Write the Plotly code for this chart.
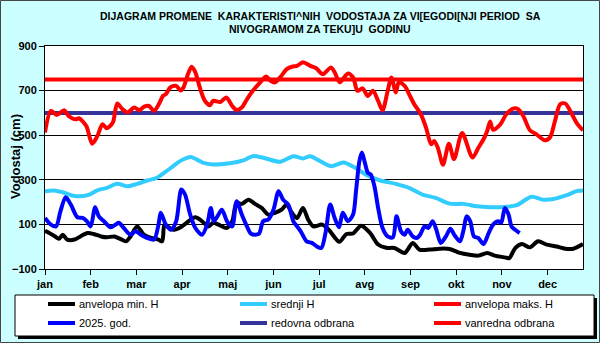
import plotly.graph_objects as go

months = ["jan", "feb", "mar", "apr", "maj", "jun", "jul", "avg", "sep", "okt", "nov", "dec"]
month_ticks = [0, 31, 62, 93, 124, 155, 186, 217, 248, 279, 310, 341]

min_days = [0, 5, 9.5, 12, 15, 20, 24, 29, 33, 38, 42, 47, 51, 55, 58, 62.5, 67, 72, 77, 79.5, 81, 83, 87.5,
            92, 96, 102, 106, 111, 114, 119, 123, 127, 130, 133.5, 138, 142.5, 147, 151.5, 156, 160.5, 164,
            167.5, 171, 175, 178.5, 182, 188, 192.5, 199.7, 204.5, 209, 214.5, 220.5, 226, 231.5, 237, 244,
            249.5, 254, 261, 267.5, 274.5, 281.5, 288, 294, 300, 305, 312, 315, 319, 323.5, 329, 334.5, 340.5,
            347, 353, 358.5, 365]
min_h = [72, 54, 36, 54, 32, 32, 46, 61, 57, 46, 42, 46, 35, 24, 46, 91, 54, 39, 32, 24, 99, 91, 76,
         87, 107, 132, 117, 91, 107, 95, 84, 114, 197, 192, 211, 192, 174, 144, 152, 166, 189,
         152, 129, 174, 122, 91, 99, 76, 22, 57, 59, 94, 62, 10, -5, -6, -28,
         17, -13, -13, -9, -10, -28, -36, -40, -28, -40, -48, -51, -6, 12, -3, 24, 9,
         1, -9, -9, 12]

mean_days = [0, 6, 13, 20, 29, 35.5, 42, 49, 56, 62.5, 69.5, 76, 81, 85.5, 90, 94, 99, 107, 114, 125.5,
             134.5, 141, 148, 159.5, 168.5, 175, 180, 186, 194, 202.5, 210, 218, 227, 238, 247, 256, 265,
             274.5, 284, 293, 302, 311, 320, 330, 338, 345, 354, 360.5, 365]
mean_h = [249, 252, 242, 227, 231, 253, 264, 282, 271, 282, 297, 309, 332, 354, 377, 392, 402, 377, 369, 374,
          387, 406, 399, 381, 406, 396, 406, 386, 361, 378, 356, 322, 298, 282, 264, 234, 219,
          193, 192, 181, 177, 178, 186, 224, 211, 214, 231, 249, 252]

max_days = [0, 4, 8, 13, 16, 21, 23, 28, 32, 35.5, 39, 42, 46, 49, 52.5, 56, 60.5, 64, 67, 70.5, 74, 77.5,
            80, 82, 85, 89, 92, 94, 97, 99.5, 102, 105, 108.5, 112, 114, 119, 123, 127, 130, 133.5, 137,
            141, 146, 150, 153, 156, 159.5, 164, 167.5, 171, 175, 180, 184, 188.5, 194, 196.5, 200, 205.5,
            209, 212, 215.5, 219, 222.5, 226, 229, 232.5, 235, 238, 240, 244, 247, 250.5, 255, 258.5, 262,
            264, 266.5, 270, 274, 277.5, 283, 290, 294, 297.5, 300, 302, 304, 309, 313, 318, 321, 324.5,
            329, 333.5, 339, 342.5, 346, 349.5, 353, 357.5, 361, 365]
max_h = [512, 609, 591, 612, 586, 571, 576, 541, 462, 496, 549, 531, 557, 642, 617, 602, 624, 612, 627, 631, 609, 642,
         676, 684, 714, 721, 700, 715, 774, 807, 782, 714, 654, 634, 654, 649, 669, 631, 613, 624, 661,
         699, 737, 763, 744, 737, 759, 796, 807, 811, 827, 811, 800, 774, 804, 782, 737, 777,
         759, 699, 710, 676, 699, 654, 612, 699, 759, 692, 737, 721, 684, 639, 594, 534, 459,
         474, 444, 368, 462, 393, 510, 400, 444, 482, 519, 561, 524, 549, 594, 620, 617, 586,
         522, 504, 477, 489, 564, 639, 642, 594, 552, 522]

cur_days = [0, 4, 7.5, 10.5, 14, 17.5, 22, 25.5, 28.5, 31, 34, 36.5, 40, 44.5, 48, 50, 53.5, 58, 61.5, 65,
            69.5, 74, 77, 78.5, 82, 85.5, 89, 92.5, 95, 98.5, 102, 106.5, 110, 112.5, 114.5, 117, 120, 123.5,
            127, 130, 133.5, 137, 140, 145, 148, 151.5, 155, 158.5, 161.5, 165, 168.5, 171, 173.5, 177.5,
            181, 184.5, 187.5, 190.5, 193.5, 196.5, 199.5, 202, 205.5, 209, 211, 213.3, 215, 217, 219, 221,
            223.5, 226, 229, 232.5, 236, 238.5, 241.5, 244, 246, 249.5, 252, 254.5, 257.5, 260, 263, 265.5,
            268.5, 272, 275, 278, 281.5, 284, 286, 288.5, 291, 294, 297.5, 301, 304, 307.5, 309.5, 312,
            314.5, 316.5, 319, 322]
cur_h = [129, 99, 91, 159, 222, 189, 132, 129, 114, 91, 177, 136, 114, 87, 99, 107, 84, 54, 69, 54,
         39, 32, 99, 152, 99, 76, 114, 257, 234, 144, 84, 54, 99, 174, 114, 136, 166, 114,
         91, 204, 144, 91, 57, 57, 114, 122, 166, 249, 211, 189, 114, 91, 69, 24,
         17, 1, -6, 69, 189, 129, 87, 152, 114, 144, 249, 384, 422, 377, 332, 324,
         271, 174, 84, 46, 42, 136, 69, 54, 76, 46, 39, 54, 91, 84, 114, 76,
         17, 46, 80, 50, 24, 76, 136, 114, 46, 39, 12, 61, 99, 114, 107, 174,
         144, 91, 76, 61]

redovna = 600
vanredna = 750
x_span = [0, 365]

legend_names = ["anvelopa min. H", "srednji H", "anvelopa maks. H",
                "2025. god.", "redovna odbrana", "vanredna odbrana"]
legend_colors = ["#000000", "#33CCFF", "#FF0000", "#0000FF", "#333399", "#FF0000"]

FONT = "Arial, Liberation Sans, sans-serif"

fig = go.Figure()
fig.add_trace(go.Scatter(x=x_span, y=[redovna, redovna], mode="lines",
                         line=dict(color="#333399", width=4), name="redovna odbrana"))
fig.add_trace(go.Scatter(x=x_span, y=[vanredna, vanredna], mode="lines",
                         line=dict(color="#FF0000", width=4), name="vanredna odbrana"))
fig.add_trace(go.Scatter(x=min_days, y=min_h, mode="lines",
                         line=dict(color="#000000", width=4, shape="spline", smoothing=0.8), name="anvelopa min. H"))
fig.add_trace(go.Scatter(x=mean_days, y=mean_h, mode="lines",
                         line=dict(color="#33CCFF", width=4, shape="spline", smoothing=0.8), name="srednji H"))
fig.add_trace(go.Scatter(x=max_days, y=max_h, mode="lines",
                         line=dict(color="#FF0000", width=4, shape="spline", smoothing=0.8), name="anvelopa maks. H"))
fig.add_trace(go.Scatter(x=cur_days, y=cur_h, mode="lines",
                         line=dict(color="#0000FF", width=4, shape="spline", smoothing=0.8), name="2025. god."))

L, T, W, H = 45, 46, 538, 223


def px(x):
    return (x - L) / W


def py(y):
    return (T + H - y) / H


shapes = []
# outer border
shapes.append(dict(type="rect", xref="paper", yref="paper", x0=px(0.5), x1=px(599.5), y0=py(342.5), y1=py(0.5),
                   line=dict(color="#444444", width=1), fillcolor="rgba(0,0,0,0)"))
# legend shadow + box
shapes.append(dict(type="rect", xref="paper", yref="paper", x0=px(18), x1=px(597), y0=py(339), y1=py(298),
                   line=dict(width=0), fillcolor="#000000"))
shapes.append(dict(type="rect", xref="paper", yref="paper", x0=px(15), x1=px(594), y0=py(336), y1=py(295),
                   line=dict(color="#000000", width=1), fillcolor="#FFFFFF"))

annotations = []
col_x = [48, 240, 434]
row_y = [304, 323]
for i, (nm, col) in enumerate(zip(legend_names, legend_colors)):
    cx = col_x[i % 3]
    ry = row_y[i // 3]
    shapes.append(dict(type="line", xref="paper", yref="paper", x0=px(cx), x1=px(cx + 27), y0=py(ry), y1=py(ry),
                       line=dict(color=col, width=4)))
    annotations.append(dict(xref="paper", yref="paper", x=px(cx + 29), y=py(ry), xanchor="left", yanchor="middle",
                            text=nm, showarrow=False, font=dict(family=FONT, size=11, color="#000000")))

TFONT = "Liberation Sans Narrow, Arial Narrow, Arial, sans-serif"
annotations.append(dict(xref="paper", yref="paper", x=px(320), y=py(16), xanchor="center", yanchor="middle",
                        text="<b>DIJAGRAM PROMENE  KARAKTERISTI^NIH  VODOSTAJA ZA VI[EGODI[NJI PERIOD  SA</b>",
                        showarrow=False, font=dict(family=TFONT, size=10.5, color="#000000")))
annotations.append(dict(xref="paper", yref="paper", x=px(320), y=py(29), xanchor="center", yanchor="middle",
                        text="<b>NIVOGRAMOM ZA TEKU]U  GODINU</b>",
                        showarrow=False, font=dict(family=TFONT, size=10.5, color="#000000")))
annotations.append(dict(xref="paper", yref="paper", x=px(15), y=py(157), xanchor="center", yanchor="middle",
                        text="<b>Vodostaj (cm)</b>", textangle=-90,
                        showarrow=False, font=dict(family=FONT, size=13, color="#000000")))

fig.update_layout(
    width=600, height=343,
    margin=dict(l=L, r=600 - L - W, t=T, b=343 - T - H, pad=0),
    paper_bgcolor="#CCFFFF", plot_bgcolor="#FFFFFF",
    showlegend=False,
    shapes=shapes, annotations=annotations,
    xaxis=dict(range=[0, 365], tickvals=month_ticks, ticktext=months, ticks="outside", ticklen=5,
               tickcolor="#000000", showgrid=False, zeroline=False, showline=True, linecolor="#000000",
               linewidth=1, mirror=True,
               tickfont=dict(family=FONT, size=11, color="#000000", weight="bold")),
    yaxis=dict(range=[-100, 900], tickvals=[-100, 100, 300, 500, 700, 900], ticks="outside", ticklen=5,
               tickcolor="#000000", showgrid=True, gridcolor="#000000", gridwidth=1, zeroline=False,
               showline=True, linecolor="#000000", linewidth=1, mirror=True,
               tickfont=dict(family=FONT, size=11, color="#000000", weight="bold")),
)

fig.write_html("out.html")
